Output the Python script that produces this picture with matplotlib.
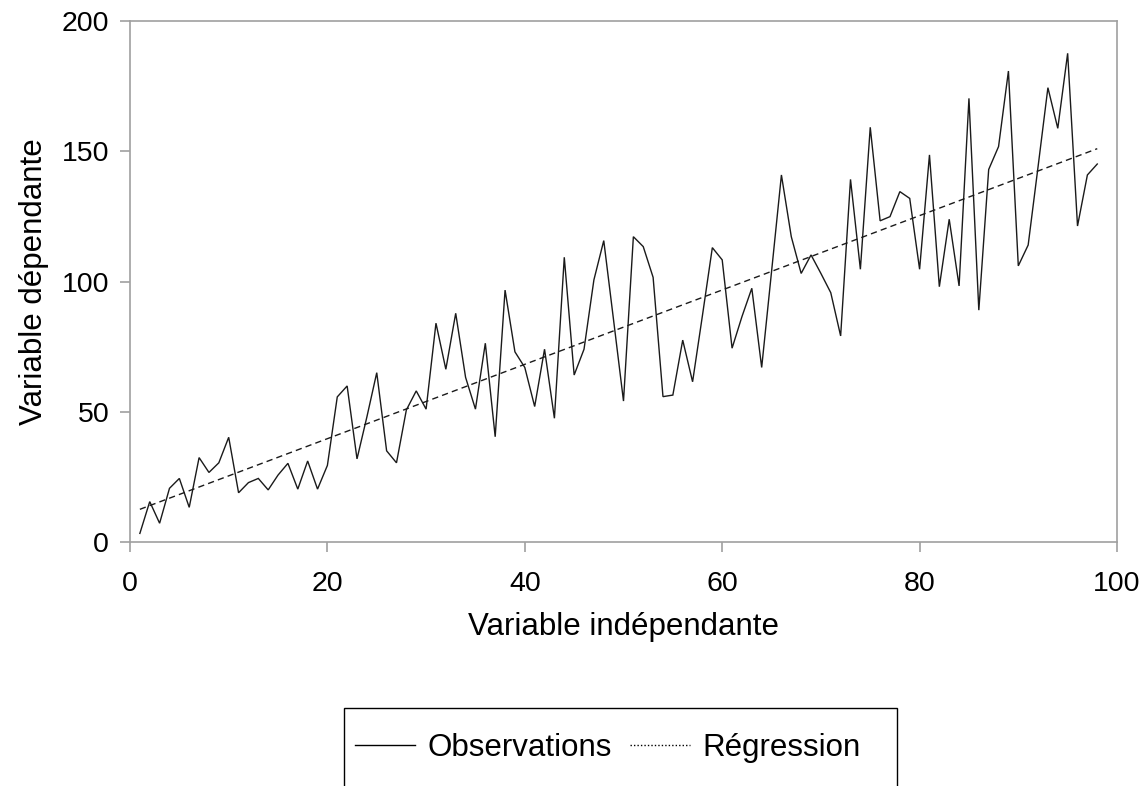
import numpy as np
import matplotlib
matplotlib.use("Agg")
import matplotlib.pyplot as plt
from matplotlib.lines import Line2D
from matplotlib.patches import Rectangle

plt.rcParams['font.family'] = ['Liberation Sans', 'DejaVu Sans']

x_values = list(range(1, 99))
observations = [3.3, 15.5, 7.2, 20.6, 24.4, 13.3, 32.4, 26.7, 30.4, 40.2,
                18.9, 22.8, 24.4, 20.0, 25.7, 30.2, 20.3, 31.1, 20.3, 29.4,
                55.7, 59.9, 31.9, 48.0, 65.0, 35.0, 30.4, 50.7, 58.0, 51.0,
                84.0, 66.3, 87.8, 63.2, 51.0, 76.3, 40.4, 96.7, 73.0, 67.0,
                52.0, 74.0, 47.5, 109.3, 64.1, 74.0, 100.6, 115.7, 85.0, 54.1,
                117.2, 113.4, 101.6, 55.8, 56.4, 77.5, 61.5, 87.0, 113.0, 108.3,
                74.4, 86.5, 97.4, 67.0, 103.8, 140.9, 117.2, 103.1, 110.2, 103.1,
                95.7, 79.1, 139.2, 104.7, 159.2, 123.3, 124.9, 134.5, 131.9, 104.7,
                148.6, 98.0, 123.9, 98.3, 170.3, 89.0, 143.0, 151.8, 180.8, 106.0,
                114.0, 144.0, 174.4, 158.8, 187.6, 121.3, 140.9, 145.1]
x_ticks = [0, 20, 40, 60, 80, 100]
y_ticks = [0, 50, 100, 150, 200]
labels = ["Observations", "Régression"]

x = np.array(x_values, dtype=float)
y = np.array(observations)
slope, intercept = np.polyfit(x, y, 1)
reg = intercept + slope * x

W, H = 1141, 786
fig = plt.figure(figsize=(W / 100, H / 100), dpi=100)
ax = fig.add_axes([130 / W, 1 - 542 / H, 987 / W, 521 / H])

ax.plot(x, y, color='#1a1a1a', lw=1.0, solid_joinstyle='miter')
ax.plot(x, reg, color='#1a1a1a', lw=1.0, linestyle=(0, (4.5, 3)))

ax.set_xlim(0, 100)
ax.set_ylim(0, 200)
ax.set_xticks(x_ticks)
ax.set_yticks(y_ticks)
for s in ax.spines.values():
    s.set_color('#a0a0a0')
    s.set_linewidth(1.2)
ax.tick_params(axis='both', colors='#a0a0a0', labelcolor='black', labelsize=20.5,
               length=7, width=1.2)
ax.tick_params(axis='x', pad=14)
ax.tick_params(axis='y', pad=8)
ax.set_xlabel("Variable indépendante", fontsize=22.5, labelpad=11)
ax.set_ylabel("Variable dépendante", fontsize=22.5, labelpad=9)

# legend box (extends past the bottom of the figure)
fig.patches.append(Rectangle((344 / W, 1 - 800 / H), (897 - 344) / W, 92 / H,
                             transform=fig.transFigure, fill=False,
                             edgecolor='black', lw=1.0, figure=fig))
handles = [Line2D([], [], color='black', lw=1.0),
           Line2D([], [], color='black', lw=1.0, linestyle=(0, (1, 1.5)))]
fig.legend(handles, labels, loc='center', ncol=2, frameon=False,
           bbox_to_anchor=(608 / W, 1 - 748 / H), fontsize=22.5,
           handlelength=1.9, handletextpad=0.4, columnspacing=0.6)

fig.savefig("out.png", dpi=100)
